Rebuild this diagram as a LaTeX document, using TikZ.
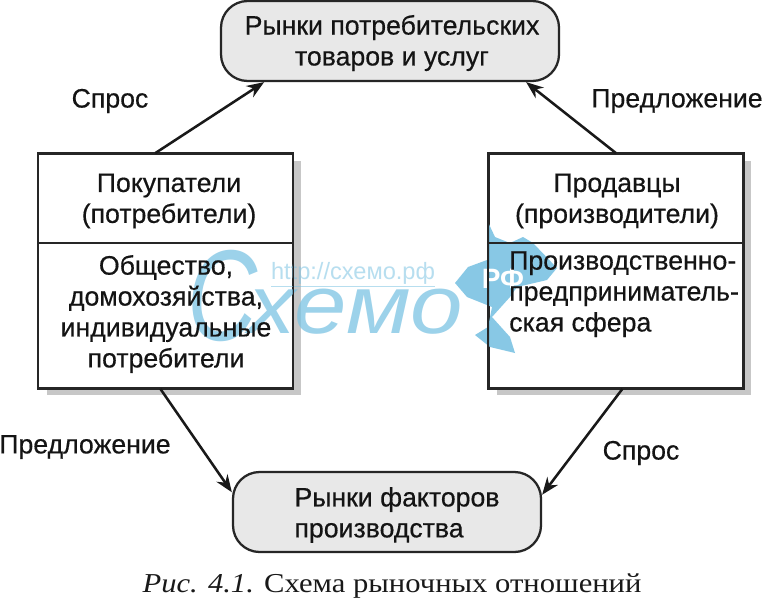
\documentclass[tikz,border=0pt]{standalone}
\usepackage{fontspec}
\setmainfont{Liberation Sans}[RawFeature={embolden=0.45}]
\newfontfamily\plainsans{Liberation Sans}
\newfontfamily\capfont{Liberation Serif}[FakeStretch=1.12]
\usetikzlibrary{shadows,calc,arrows.meta}
\definecolor{wm}{HTML}{7CC3E3}
\tikzset{
  x=0.75pt,y=-0.75pt,
  txt/.style={inner sep=0pt,align=center,font=\fontsize{20pt}{23.2pt}\selectfont,text=black!92},
  blockbox/.style={draw=black!85,line width=1.3pt,rectangle,fill=white,minimum width=190.5pt,minimum height=175.5pt,inner sep=0pt,
     drop shadow={shadow xshift=6pt,shadow yshift=-5.5pt,fill=black!22,opacity=1}},
  marketbox/.style={draw=black!85,line width=1.7pt,rounded corners=20pt,fill=black!9,inner sep=0pt},
  arrowline/.style={draw=black!90,line width=1.9pt,-{Stealth[length=13pt,width=10pt]}},
  divider/.style={draw=black!85,line width=1pt},
  wmtext/.style={text=wm,inner sep=0pt,opacity=.75}
}
\begin{document}
\begin{tikzpicture}
\useasboundingbox (0,0) rectangle (762,600);
\fill[white] (0,0) rectangle (762,600);
% boxes
\node[blockbox] (buyers) at (165.5,271) {};
\node[blockbox] (sellers) at (616,271) {};
\node[marketbox,minimum width=253.5pt,minimum height=60pt] (goods) at (390,41) {};
\node[marketbox,minimum width=231pt,minimum height=60pt] (factors) at (387,512) {};
% watermark
\node[wmtext,font=\plainsans\fontsize{97pt}{97pt}\selectfont\itshape,xscale=.75,transform shape] (wmc) at (223,296) {С};
\node[wmtext,font=\plainsans\fontsize{62pt}{62pt}\selectfont\itshape,xscale=1.14,transform shape] (wmx) at (356,312) {хемо};
\node[wmtext,font=\plainsans\fontsize{17.7pt}{17.7pt}\selectfont,opacity=.55] (wmurl) at (353,275) {\underline{http://схемо.рф}};
\fill[wm,opacity=.9] (487,220) -- (495,237) -- (510,243) -- (523,237) -- (533,243) -- (557,268) -- (547,280) -- (517,287) -- (510,297) -- (492,317) -- (510,337) -- (515,353) -- (490,347) -- (475,335) -- (488,327) -- (492,307) -- (467,297) -- (455,283) -- (468,267) -- (487,260) -- (487,240) -- cycle;
\node[font=\plainsans\bfseries\fontsize{21pt}{21pt}\selectfont,text=white,inner sep=0pt] (wmrf) at (503,279) {РФ};
% dividers
\draw[divider] (buyers.west |- 0,243) coordinate (bl) -- (buyers.east |- 0,243) coordinate (br);
\draw[divider] (sellers.west |- 0,243) coordinate (sl) -- (sellers.east |- 0,243) coordinate (sr);
\draw[draw=black!85,line width=1.3pt] (buyers.north west) rectangle (buyers.south east);
\draw[draw=black!85,line width=1.3pt] (sellers.north west) rectangle (sellers.south east);
% text
\node[txt] (t1) at (392,43) {Рынки потребительских\\товаров и услуг};
\node[txt] (t2) at (169,201) {Покупатели\\(потребители)};
\node[txt] (t3) at (166,314) {Общество,\\домохозяйства,\\индивидуальные\\потребители};
\node[txt] (t4) at (617,201) {Продавцы\\(производители)};
\node[txt,align=left,anchor=north west] (t5) at (509,251) {Производственно-\\предприниматель-\\ская сфера};
\node[txt,align=left] (t6) at (397,515) {Рынки факторов\\производства};
\node[txt] (l1) at (110,101) {Спрос};
\node[txt] (l2) at (677,101) {Предложение};
\node[txt] (l3) at (85,447) {Предложение};
\node[txt] (l4) at (641,453) {Спрос};
\node[inner sep=0pt,text=black!90,font=\capfont\fontsize{20.5pt}{20.5pt}\selectfont] (cap) at (392,586) {\textit{Рис. 4.1.} Схема рыночных отношений};
% connectors
\draw[arrowline] ($(buyers.north west)!0.46!(buyers.north east)$) -- ($(goods.south west)!0.13!(goods.south east)$);
\draw[arrowline] ($(sellers.north west)!0.50!(sellers.north east)$) -- ($(goods.south west)!0.90!(goods.south east)$);
\draw[arrowline] ($(buyers.south west)!0.48!(buyers.south east)$) -- ($(factors.north west)!0.26!(factors.south west)$);
\draw[arrowline] ($(sellers.south west)!0.525!(sellers.south east)$) -- ($(factors.north east)!0.29!(factors.south east)$);
\end{tikzpicture}
\end{document}
